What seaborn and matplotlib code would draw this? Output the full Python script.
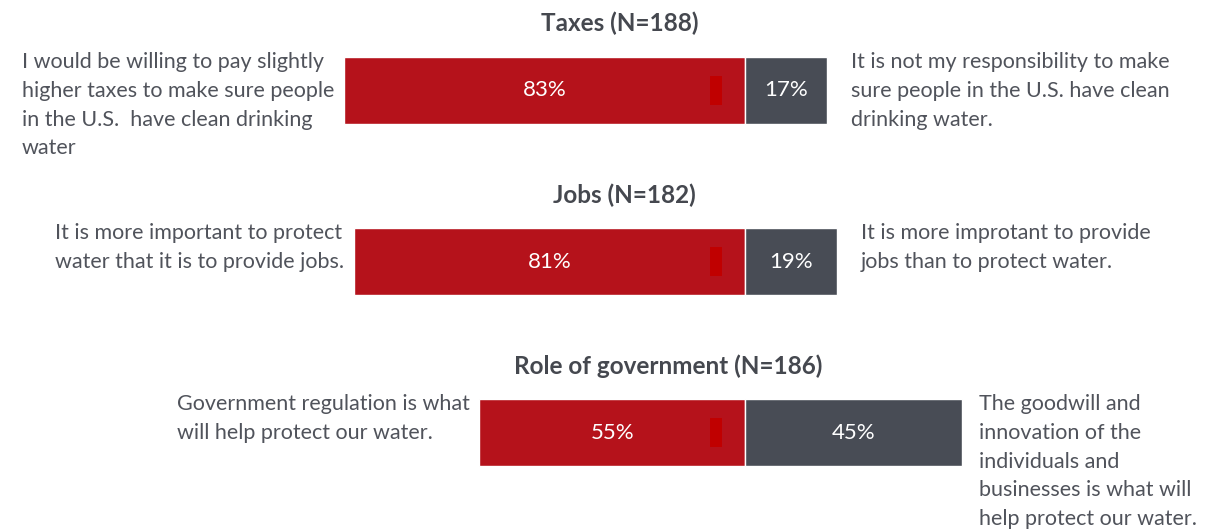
import pandas as pd
import matplotlib.pyplot as plt
import seaborn as sns

sns.set_theme(style="white")
plt.rcParams["font.family"] = ["Lato", "DejaVu Sans"]

# survey data
categories = ["Taxes (N=188)", "Jobs (N=182)", "Role of government (N=186)"]
agree_pct = [83, 81, 55]
disagree_pct = [17, 19, 45]
left_labels = [
    "I would be willing to pay slightly\nhigher taxes to make sure people\nin the U.S.  have clean drinking\nwater",
    "It is more important to protect\nwater that it is to provide jobs.",
    "Government regulation is what\nwill help protect our water.",
]
right_labels = [
    "It is not my responsibility to make\nsure people in the U.S. have clean\ndrinking water.",
    "It is more improtant to provide\njobs than to protect water.",
    "The goodwill and\ninnovation of the\nindividuals and\nbusinesses is what will\nhelp protect our water.",
]

RED = "#B5121B"
GREY = "#484C55"
TEXT = "#50535B"

df = pd.DataFrame({
    "category": categories,
    "agree": [-v for v in agree_pct],
    "disagree": disagree_pct,
})

fig = plt.figure(figsize=(12.10, 5.29), dpi=100)
ax = fig.add_axes([0, 0, 1, 1])

sns.barplot(data=df, x="agree", y="category", orient="h", color=RED,
            width=0.392, errorbar=None, edgecolor="white", linewidth=1,
            saturation=1, ax=ax)
sns.barplot(data=df, x="disagree", y="category", orient="h", color=GREY,
            width=0.392, errorbar=None, edgecolor="white", linewidth=1,
            saturation=1, ax=ax)

title_x = [-26, -25, -16]
right_gap = [5, 5, 3.4]
for i, cat in enumerate(categories):
    a, d = agree_pct[i], disagree_pct[i]
    # small darker accent inside red bar
    ax.add_patch(plt.Rectangle((-7.25, i - 0.085), 2.5, 0.17,
                               color="#C00000", lw=0, zorder=3))
    ax.text(-a / 2, i, f"{a}%", color="white", fontsize=16,
            ha="center", va="center", zorder=4)
    ax.text(d / 2, i, f"{d}%", color="white", fontsize=16,
            ha="center", va="center", zorder=4)
    ax.text(title_x[i], i - 0.39, cat, color="#45484F", fontsize=17.5,
            fontweight="bold", ha="center", va="center")
    ax.text(-a - 2.0, i - 0.225, left_labels[i], color=TEXT, fontsize=15.5,
            ha="right", va="top", multialignment="left", linespacing=1.55)
    ax.text(d + right_gap[i], i - 0.225, right_labels[i], color=TEXT,
            fontsize=15.5, ha="left", va="top", multialignment="left",
            linespacing=1.55)

ax.set_xlim(-745 / 4.83, (1210 - 745) / 4.83)
ax.set_ylim(2.564, -0.529)
ax.axis("off")

fig.savefig("out.png", dpi=100, facecolor="white")
